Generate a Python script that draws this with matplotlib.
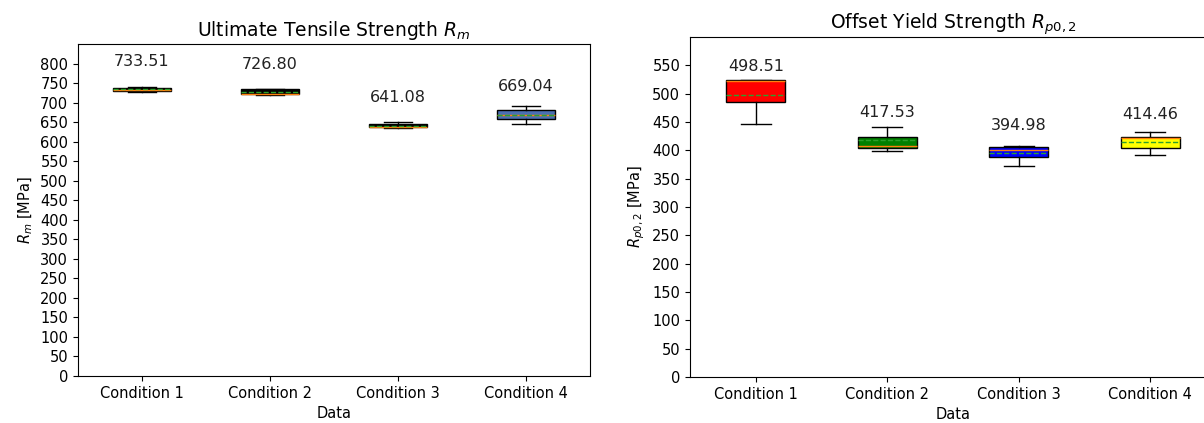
import numpy as np
import matplotlib.pyplot as plt

# condition names
conditions = ['Condition 1', 'Condition 2', 'Condition 3', 'Condition 4']

# Rm - ultimate tensile strength [MPa]
rm_whislo = [726.0, 720.0, 636.0, 645.0]
rm_q1 = [729.0, 721.0, 637.0, 657.0]
rm_med = [731.0, 722.0, 638.0, 668.0]
rm_q3 = [738.0, 734.0, 646.0, 681.0]
rm_whishi = [739.0, 735.0, 650.0, 691.0]
rm_mean = [733.51, 726.80, 641.08, 669.04]

# Rp0,2 - offset yield strength [MPa]
rp_whislo = [446.6, 399.6, 372.0, 391.4]
rp_q1 = [484.7, 404.4, 387.9, 404.4]
rp_med = [522.0, 407.0, 401.4, 422.0]
rp_q3 = [524.0, 424.3, 405.5, 424.3]
rp_whishi = [524.0, 441.4, 407.0, 433.0]
rp_mean = [498.51, 417.53, 394.98, 414.46]

rm_colors = ['black', 'black', 'black', '#4a6fb5']
rp_colors = ['red', 'green', 'blue', 'yellow']

plt.rcParams['font.size'] = 10.5


def make_stats(lo, q1, med, q3, hi, mean):
    stats = []
    for i in range(len(conditions)):
        stats.append(dict(whislo=lo[i], q1=q1[i], med=med[i], q3=q3[i],
                          whishi=hi[i], mean=mean[i], fliers=[]))
    return stats


def draw(ax, stats, colors, means, title, ylabel, top):
    bp = ax.bxp(stats, positions=[1, 2, 3, 4], widths=0.45, patch_artist=True,
                showmeans=True, meanline=True)
    for patch, c in zip(bp['boxes'], colors):
        patch.set_facecolor(c)
    for i, m in enumerate(means):
        ax.annotate('%.2f' % m, xy=(i + 1, m), xytext=(0, 20), textcoords='offset points',
                    ha='center', va='center', fontsize=11.5, color='#222222')
    ax.set_xticks([1, 2, 3, 4])
    ax.set_xticklabels(conditions)
    ax.set_xlim(0.5, 4.5)
    ax.set_ylim(0, top)
    ax.set_yticks(np.arange(0, top, 50))
    ax.set_title(title, fontsize=13.5)
    ax.set_xlabel('Data')
    ax.set_ylabel(ylabel)


fig = plt.figure(figsize=(12.04, 4.23), dpi=100)
ax1 = fig.add_axes([0.0648, 0.1111, 0.4252, 0.7849])
ax2 = fig.add_axes([0.5731, 0.1087, 0.4369, 0.8038])

draw(ax1, make_stats(rm_whislo, rm_q1, rm_med, rm_q3, rm_whishi, rm_mean), rm_colors, rm_mean,
     'Ultimate Tensile Strength $R_m$', '$R_m$ [MPa]', 850)
draw(ax2, make_stats(rp_whislo, rp_q1, rp_med, rp_q3, rp_whishi, rp_mean), rp_colors, rp_mean,
     'Offset Yield Strength $R_{p0,2}$', '$R_{p0,2}$ [MPa]', 600)

fig.savefig('out.png', dpi=100)
